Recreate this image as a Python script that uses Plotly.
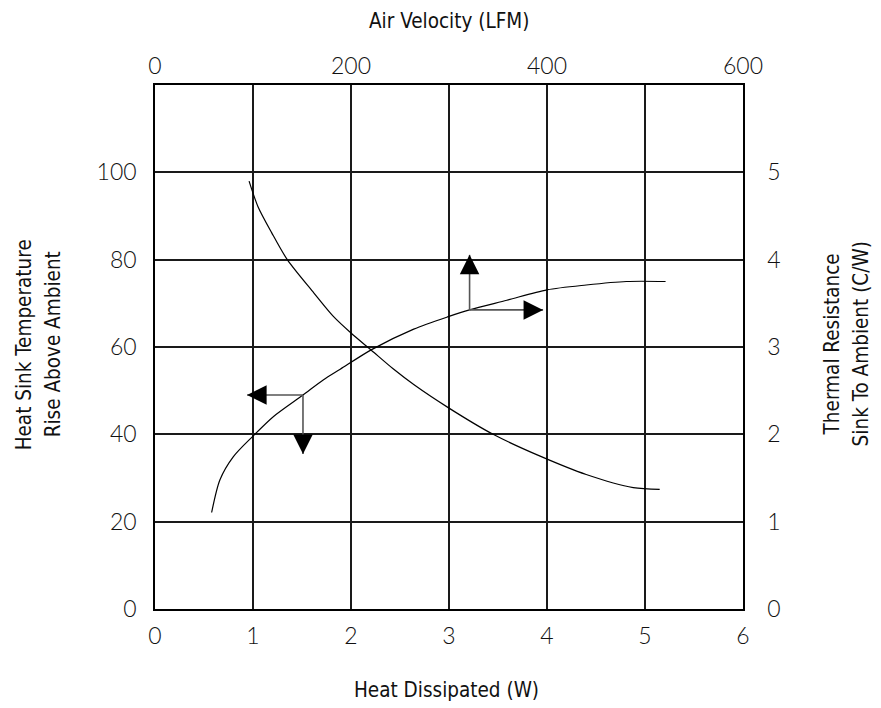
import plotly.graph_objects as go

# Temperature rise vs heat dissipated (bottom / left axes)
power_w = [0.578, 0.663, 0.80, 1.0, 1.21, 1.51, 1.72, 1.89, 2.21, 2.64, 3.0, 3.21, 3.59, 4.0, 4.40, 4.81, 5.21]
temp_rise = [22.1, 29.6, 34.9, 39.6, 44.1, 49.0, 52.5, 54.9, 59.4, 64.1, 67.0, 68.5, 70.7, 73.1, 74.2, 75.0, 75.0]

# Thermal resistance vs air velocity (top / right axes)
air_lfm = [96, 105, 119, 135, 162, 182, 200, 221, 243, 264, 300, 345, 393, 440, 488, 515]
resist_cw = [4.90, 4.61, 4.31, 4.00, 3.62, 3.35, 3.16, 2.96, 2.75, 2.57, 2.30, 2.00, 1.75, 1.54, 1.39, 1.37]

x_ticks = [0, 1, 2, 3, 4, 5, 6]
y_ticks = [0, 20, 40, 60, 80, 100]
x2_ticks = [0, 200, 400, 600]
y2_ticks = [0, 1, 2, 3, 4, 5]

TICK_FONT = dict(family="Lato", size=23, color="#111", weight=300)
TITLE_FONT = dict(family="'DejaVu Sans Condensed', 'Liberation Sans Narrow', 'DejaVu Sans', sans-serif",
                  size=20.5, color="#111")
GRID = "#1a1a1a"

fig = go.Figure()
fig.add_trace(go.Scatter(x=power_w, y=temp_rise, mode="lines",
                         line=dict(color="black", width=1.2, shape="spline", smoothing=0.8),
                         xaxis="x", yaxis="y", showlegend=False))
fig.add_trace(go.Scatter(x=air_lfm, y=resist_cw, mode="lines",
                         line=dict(color="black", width=1.2, shape="spline", smoothing=0.8),
                         xaxis="x2", yaxis="y2", showlegend=False))

axis_common = dict(showline=True, linecolor="black", linewidth=1.5, ticks="", zeroline=False, tickfont=TICK_FONT)
# the page body adds an 8px margin, so the figure is 8px smaller and margins shifted
fig.update_layout(
    width=873, height=700,
    margin=dict(l=147, r=138, t=77, b=99, autoexpand=False),
    plot_bgcolor="white", paper_bgcolor="white",
    xaxis=dict(range=[0, 6], tickvals=x_ticks, showgrid=True, gridcolor=GRID, gridwidth=1.5,
               ticklabelstandoff=6, **axis_common),
    yaxis=dict(range=[0, 120], tickvals=y_ticks, showgrid=True, gridcolor=GRID, gridwidth=1.8,
               ticklabelstandoff=12, **axis_common),
    xaxis2=dict(range=[0, 600], tickvals=x2_ticks, overlaying="x", side="top", showgrid=False,
                ticklabelstandoff=0, **axis_common),
    yaxis2=dict(range=[0, 6], tickvals=y2_ticks, overlaying="y", side="right", showgrid=False,
                ticklabelstandoff=18, **axis_common),
)

# axis titles
def title(text, x, y, angle=0):
    fig.add_annotation(text=text, xref="paper", yref="paper", x=x, y=y, textangle=angle, showarrow=False,
                       font=TITLE_FONT, xanchor="center", yanchor="middle", borderpad=0)

title("Air Velocity (LFM)", 0.5, 1.122)
title("Heat Dissipated (W)", 0.495, -0.155)
title("Heat Sink Temperature", -0.2228, 0.505, -90)
title("Rise Above Ambient", -0.1735, 0.505, -90)
title("Thermal Resistance", 1.1514, 0.505, -90)
title("Sink To Ambient (C/W)", 1.2007, 0.505, -90)

# reading arrows: (corner x, corner y, tip x, tip y)
arrows = [
    (1.51, 49.0, 0.94, 49.0),
    (1.51, 49.0, 1.51, 35.5),
    (3.21, 68.5, 3.21, 81.1),
    (3.21, 68.5, 3.96, 68.5),
]
for cx, cy, tx, ty in arrows:
    fig.add_shape(type="line", xref="x", yref="y", x0=cx, y0=cy, x1=tx, y1=ty,
                  line=dict(color="#555", width=1.6))
    dx = 0 if tx == cx else (20 if tx < cx else -20)
    dy = 0 if ty == cy else (-20 if ty < cy else 20)
    fig.add_annotation(x=tx, y=ty, xref="x", yref="y", ax=dx, ay=dy, axref="pixel", ayref="pixel",
                       showarrow=True, arrowhead=2, arrowsize=2.6, arrowwidth=1.5, arrowcolor="black",
                       text="")

fig.write_html("out.html")
